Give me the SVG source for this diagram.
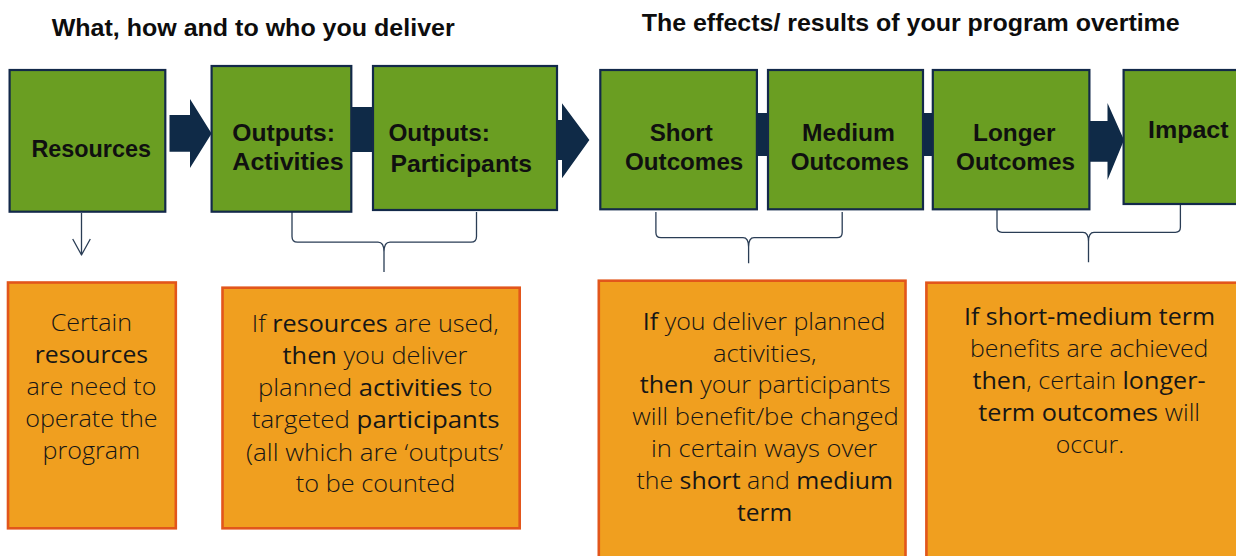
<svg xmlns="http://www.w3.org/2000/svg" width="1236" height="556" viewBox="0 0 1236 556">
  <style>
    .head { font-family: "Liberation Sans", Arial, sans-serif; font-weight: 700; font-size: 24px; fill: #0d0d0d; }
    .step rect { fill: #6a9e22; stroke: #13294a; stroke-width: 2.2; }
    .step text { font-family: "Liberation Sans", Arial, sans-serif; font-weight: 700; font-size: 24px; fill: #101010; }
    .note rect { fill: #f09f1f; stroke: #e2561b; stroke-width: 2.6; }
    .note text { font-family: "Open Sans", "Liberation Sans", sans-serif; font-weight: 300; font-size: 24px; fill: #161616; text-anchor: middle; }
    .note tspan.b { font-weight: 500; }
    .flow { fill: #0f2a47; }
    .brace { fill: none; stroke: #2a3d55; stroke-width: 1.3; stroke-linejoin: round; }
  </style>

  <!-- section headings -->
  <text class="head" x="51.7" y="35.5" textLength="403" lengthAdjust="spacingAndGlyphs">What, how and to who you deliver</text>
  <text class="head" x="641.7" y="31" textLength="538" lengthAdjust="spacingAndGlyphs">The effects/ results of your program overtime</text>

  <!-- connectors: block arrows, joining bars, braces and the down arrow -->
  <g id="connectors">
    <polygon class="flow" points="169.5,115 190,115 190,99 211.6,133.5 190,168 190,151.7 169.5,151.7"/>
    <rect class="flow" x="350" y="107" width="24" height="45"/>
    <polygon class="flow" points="557,120 562,120 562,103.3 589.4,140 562,178.3 562,160 557,160"/>
    <rect class="flow" x="756" y="113" width="13" height="43"/>
    <rect class="flow" x="922" y="113" width="12" height="43"/>
    <polygon class="flow" points="1089,121 1107.5,121 1107.5,103 1124,140 1107.5,180 1107.5,161.7 1089,161.7"/>

    <path class="brace" d="M292,212 V236.5 Q292,242.2 297.5,242.2 H378 Q384,242.2 384,252 V272 M476.5,212 V236.5 Q476.5,242.2 471,242.2 H390 Q384,242.2 384,252"/>
    <path class="brace" d="M655.9,212 V232.5 Q655.9,237.7 661,237.7 H743 Q748.6,237.7 748.6,247 V263.3 M842.2,212 V232.5 Q842.2,237.7 837,237.7 H754 Q748.6,237.7 748.6,247"/>
    <path class="brace" d="M997,201.7 V227.3 Q997,232.3 1002,232.3 H1083 Q1088.5,232.3 1088.5,241.5 V262.3 M1180.4,201.7 V227.3 Q1180.4,232.3 1175.4,232.3 H1094 Q1088.5,232.3 1088.5,241.5"/>

    <path class="brace" d="M81.5,213 V255 M72.7,239 L81.5,255 L90.3,239"/>
  </g>

  <!-- program steps -->
  <g id="resources" class="step">
    <rect x="9.6" y="70" width="155.7" height="141.7"/>
    <text x="31.4" y="156.7" textLength="119.6" lengthAdjust="spacingAndGlyphs">Resources</text>
  </g>
  <g id="outputs-activities" class="step">
    <rect x="211.6" y="66" width="139.7" height="145.7"/>
    <text x="232.3" y="140.7" textLength="102.6" lengthAdjust="spacingAndGlyphs">Outputs:</text>
    <text x="232.3" y="170" textLength="111.4" lengthAdjust="spacingAndGlyphs">Activities</text>
  </g>
  <g id="outputs-participants" class="step">
    <rect x="373" y="66" width="184" height="144"/>
    <text x="388.4" y="140.7" textLength="101.5" lengthAdjust="spacingAndGlyphs">Outputs:</text>
    <text x="390.4" y="171.5" textLength="141.6" lengthAdjust="spacingAndGlyphs">Participants</text>
  </g>
  <g id="short-outcomes" class="step">
    <rect x="600.3" y="70" width="156.6" height="139.3"/>
    <text x="649.7" y="140.7" textLength="63" lengthAdjust="spacingAndGlyphs">Short</text>
    <text x="625" y="170" textLength="118.3" lengthAdjust="spacingAndGlyphs">Outcomes</text>
  </g>
  <g id="medium-outcomes" class="step">
    <rect x="768" y="70" width="155" height="139.3"/>
    <text x="802" y="140.7" textLength="93" lengthAdjust="spacingAndGlyphs">Medium</text>
    <text x="790.7" y="170" textLength="118.3" lengthAdjust="spacingAndGlyphs">Outcomes</text>
  </g>
  <g id="longer-outcomes" class="step">
    <rect x="932.8" y="70" width="156.6" height="139.3"/>
    <text x="973" y="140.7" textLength="82.6" lengthAdjust="spacingAndGlyphs">Longer</text>
    <text x="956" y="170" textLength="119" lengthAdjust="spacingAndGlyphs">Outcomes</text>
  </g>
  <g id="impact" class="step">
    <rect x="1123.6" y="70" width="130" height="134"/>
    <text x="1148" y="137.7" textLength="80.6" lengthAdjust="spacingAndGlyphs">Impact</text>
  </g>

  <!-- explanatory notes -->
  <g id="note-resources" class="note">
    <rect x="8" y="282.5" width="167.8" height="245.8"/>
    <text x="91.4" y="330.5" textLength="81.2" lengthAdjust="spacingAndGlyphs">Certain</text>
    <text x="91.4" y="362.5" textLength="113.4" lengthAdjust="spacingAndGlyphs"><tspan class="b">resources</tspan></text>
    <text x="91.4" y="394.5" textLength="129.8" lengthAdjust="spacingAndGlyphs">are need to</text>
    <text x="91.4" y="426.5" textLength="132.5" lengthAdjust="spacingAndGlyphs">operate the</text>
    <text x="91.4" y="458.5" textLength="97.7" lengthAdjust="spacingAndGlyphs">program</text>
  </g>
  <g id="note-outputs" class="note">
    <rect x="222.5" y="287.7" width="297.2" height="240.6"/>
    <text x="375.3" y="332" textLength="247" lengthAdjust="spacingAndGlyphs">If <tspan class="b">resources</tspan> are used,</text>
    <text x="375" y="364" textLength="184.9" lengthAdjust="spacingAndGlyphs"><tspan class="b">then</tspan> you deliver</text>
    <text x="375.3" y="396" textLength="234.4" lengthAdjust="spacingAndGlyphs">planned <tspan class="b">activities</tspan> to</text>
    <text x="375.6" y="428.3" textLength="247.7" lengthAdjust="spacingAndGlyphs">targeted <tspan class="b">participants</tspan></text>
    <text x="374.5" y="460.5" textLength="257" lengthAdjust="spacingAndGlyphs">(all which are ‘outputs’</text>
    <text x="375.5" y="492.3" textLength="159.4" lengthAdjust="spacingAndGlyphs">to be counted</text>
  </g>
  <g id="note-short-medium" class="note">
    <rect x="598.8" y="280.7" width="306.7" height="290"/>
    <text x="764.1" y="330" textLength="242.6" lengthAdjust="spacingAndGlyphs"><tspan class="b">If</tspan> you deliver planned</text>
    <text x="764.7" y="361.5" textLength="103.4" lengthAdjust="spacingAndGlyphs">activities,</text>
    <text x="765.1" y="393.3" textLength="250.7" lengthAdjust="spacingAndGlyphs"><tspan class="b">then</tspan> your participants</text>
    <text x="765.5" y="425" textLength="266.5" lengthAdjust="spacingAndGlyphs">will benefit/be changed</text>
    <text x="764.1" y="456.7" textLength="226" lengthAdjust="spacingAndGlyphs">in certain ways over</text>
    <text x="764.7" y="489" textLength="256.5" lengthAdjust="spacingAndGlyphs">the <tspan class="b">short</tspan> and <tspan class="b">medium</tspan></text>
    <text x="764.5" y="520.7" textLength="55.2" lengthAdjust="spacingAndGlyphs"><tspan class="b">term</tspan></text>
  </g>
  <g id="note-longer" class="note">
    <rect x="926.4" y="282.7" width="320" height="290"/>
    <text x="1089.5" y="325" textLength="251" lengthAdjust="spacingAndGlyphs"><tspan class="b">If short-medium term</tspan></text>
    <text x="1089.2" y="357.3" textLength="238.4" lengthAdjust="spacingAndGlyphs">benefits are achieved</text>
    <text x="1089" y="389" textLength="233" lengthAdjust="spacingAndGlyphs"><tspan class="b">then</tspan>, certain <tspan class="b">longer-</tspan></text>
    <text x="1089.2" y="421" textLength="221.7" lengthAdjust="spacingAndGlyphs"><tspan class="b">term outcomes</tspan> will</text>
    <text x="1089.9" y="453.3" textLength="68.3" lengthAdjust="spacingAndGlyphs">occur.</text>
  </g>
</svg>
